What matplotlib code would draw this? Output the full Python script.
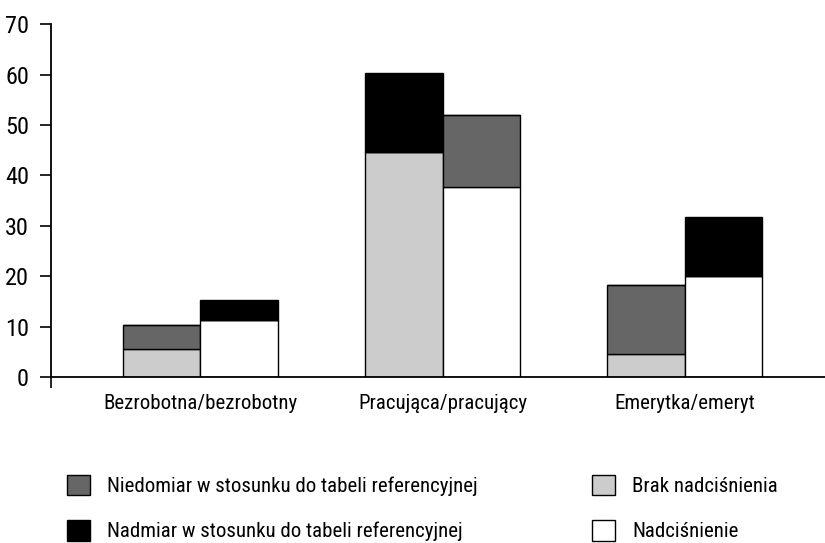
import matplotlib.pyplot as plt
from matplotlib import font_manager as fm
from matplotlib.patches import Patch

# the reference uses a narrow grotesque; take the narrowest family that is installed
fonts = fm.fontManager.ttflist
names = {f.name for f in fonts}
family, stretch, scale = 'Liberation Sans', 'normal', 0.85
for fam in ['Liberation Sans Narrow', 'Arial Narrow', 'Roboto Condensed', 'Open Sans Condensed']:
    if fam in names:
        family, stretch, scale = fam, 'normal', 1.0
        break
else:
    if any(f.name == 'DejaVu Sans' and 'ondensed' in f.fname for f in fonts):
        family, stretch, scale = 'DejaVu Sans', 'condensed', 0.9
plt.rcParams['font.family'] = [family, 'DejaVu Sans']
plt.rcParams['font.stretch'] = stretch

categories = ['Bezrobotna/bezrobotny', 'Pracująca/pracujący', 'Emerytka/emeryt']

# left bar of each group: people without hypertension
brak = [5.5, 44.6, 4.6]
niedomiar_brak = [4.9, 0, 13.6]
nadmiar_brak = [0, 15.8, 0]

# right bar of each group: people with hypertension
nadcis = [11.4, 37.7, 20.0]
niedomiar_nadcis = [0, 14.3, 0]
nadmiar_nadcis = [3.8, 0, 11.7]

c_nied = '#666666'
c_nadm = '#000000'
c_brak = '#cccccc'
c_nadc = '#ffffff'

fs_lab = 15 * scale
fs_tick = 17.5 * scale

fig = plt.figure(figsize=(8.25, 5.43), dpi=100)
ax = fig.add_axes([0.0622, 0.3057, 0.9378, 0.6496])

x = list(range(len(categories)))
w = 0.32
kw = dict(edgecolor='black', linewidth=1.0)

ax.bar(x, brak, width=-w, align='edge', color=c_brak, **kw)
b2 = [b + n for b, n in zip(brak, niedomiar_brak)]
ax.bar(x, niedomiar_brak, width=-w, align='edge', bottom=brak, color=c_nied, **kw)
ax.bar(x, nadmiar_brak, width=-w, align='edge', bottom=b2, color=c_nadm, **kw)

ax.bar(x, nadcis, width=w, align='edge', color=c_nadc, **kw)
r2 = [b + n for b, n in zip(nadcis, niedomiar_nadcis)]
ax.bar(x, niedomiar_nadcis, width=w, align='edge', bottom=nadcis, color=c_nied, **kw)
ax.bar(x, nadmiar_nadcis, width=w, align='edge', bottom=r2, color=c_nadm, **kw)

xmin, xmax = -0.616, 2.58
ax.set_xlim(xmin, xmax)
ax.set_ylim(0, 70)
ax.set_yticks(range(0, 71, 10))
ax.set_xticks(x)
ax.set_xticklabels(categories, fontsize=fs_lab)
ax.set_xticks([xmin], minor=True)
ax.tick_params(axis='x', which='major', length=0, pad=12)
ax.tick_params(axis='x', which='minor', length=8, width=1.2, direction='out')
ax.tick_params(axis='y', length=8, width=1.2, labelsize=fs_tick, pad=8)

for s in ['top', 'right']:
    ax.spines[s].set_visible(False)
for s in ['left', 'bottom']:
    ax.spines[s].set_linewidth(1.3)

handles_left = [
    Patch(facecolor=c_nied, edgecolor='black', label='Niedomiar w stosunku do tabeli referencyjnej'),
    Patch(facecolor=c_nadm, edgecolor='black', label='Nadmiar w stosunku do tabeli referencyjnej'),
]
handles_right = [
    Patch(facecolor=c_brak, edgecolor='black', label='Brak nadciśnienia'),
    Patch(facecolor=c_nadc, edgecolor='black', label='Nadciśnienie'),
]
px = fs_lab * 100 / 72
leg_kw = dict(frameon=False, fontsize=fs_lab, loc='upper left',
              handlelength=23 / px, handleheight=24 / px, handletextpad=17 / px,
              labelspacing=24 / px, borderaxespad=0, borderpad=0)
fig.legend(handles=handles_left, bbox_to_anchor=(67 / 825, 0.126), **leg_kw)
fig.legend(handles=handles_right, bbox_to_anchor=(592 / 825, 0.126), **leg_kw)

fig.savefig('out.png', dpi=100)
